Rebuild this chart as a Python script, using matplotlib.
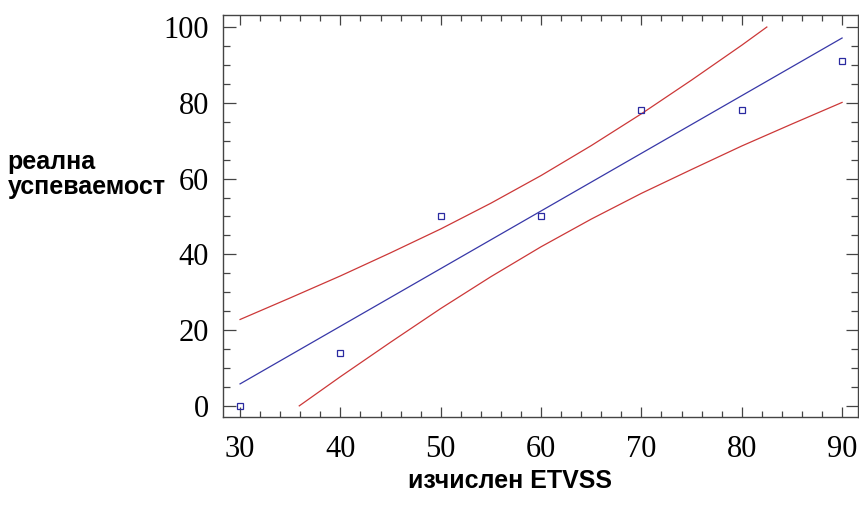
import numpy as np
import matplotlib
matplotlib.use("Agg")
import matplotlib.pyplot as plt
from matplotlib.ticker import MultipleLocator

x_obs = [30, 40, 50, 60, 70, 80, 90]
y_obs = [0, 14, 50, 50, 78, 78, 91]

# fitted line end points
x_fit = [30, 90]
y_fit = [5.8, 97.1]

# upper / lower bands (clipped at 0 and 100)
x_up = [30, 35, 40, 45, 50, 55, 60, 65, 70, 75, 80, 82.5]
y_up = [22.8, 28.5, 34.3, 40.4, 46.7, 53.5, 60.8, 68.7, 77.1, 86.0, 95.2, 100]
x_lo = [35.9, 40, 45, 50, 55, 60, 65, 70, 75, 80, 85, 90]
y_lo = [0, 7.7, 16.8, 25.7, 34.1, 42.0, 49.3, 56.1, 62.4, 68.6, 74.4, 80.1]

fig = plt.figure(figsize=(8.59, 5.14), dpi=100)
ax = fig.add_axes([0.2596, 0.189, 0.7394, 0.782])

ax.plot(x_fit, y_fit, color='#3838a8', lw=0.9)
ax.plot(x_up, y_up, color='#cc3838', lw=0.9)
ax.plot(x_lo, y_lo, color='#cc3838', lw=0.9)
ax.plot(x_obs, y_obs, 's', mfc='none', mec='#2a2aa0', ms=5, mew=0.9)

ax.set_xlim(28.3, 91.6)
ax.set_ylim(-2.9, 103.2)
ax.xaxis.set_major_locator(MultipleLocator(10))
ax.xaxis.set_minor_locator(MultipleLocator(2))
ax.yaxis.set_major_locator(MultipleLocator(20))
ax.yaxis.set_minor_locator(MultipleLocator(5))

for s in ax.spines.values():
    s.set_color('#444444')
    s.set_linewidth(1.0)

ax.tick_params(which='both', direction='in', top=True, right=True, color='#444444', width=0.9)
ax.tick_params(axis='y', which='major', length=9, pad=10)
ax.tick_params(axis='y', which='minor', length=5)
ax.tick_params(axis='x', which='major', length=7, pad=13)
ax.tick_params(axis='x', which='minor', length=4)

for lab in ax.get_xticklabels() + ax.get_yticklabels():
    lab.set_family('Liberation Serif')
    lab.set_fontsize(22)

fig.text(0.009, 0.66, "реална\nуспеваемост", fontsize=18, fontweight='bold',
         family='Liberation Sans', ha='left', va='center', linespacing=1.05)
fig.text(0.594, 0.064, "изчислен ETVSS", fontsize=18, fontweight='bold',
         family='Liberation Sans', ha='center', va='center')

fig.savefig("out.png", dpi=100)
